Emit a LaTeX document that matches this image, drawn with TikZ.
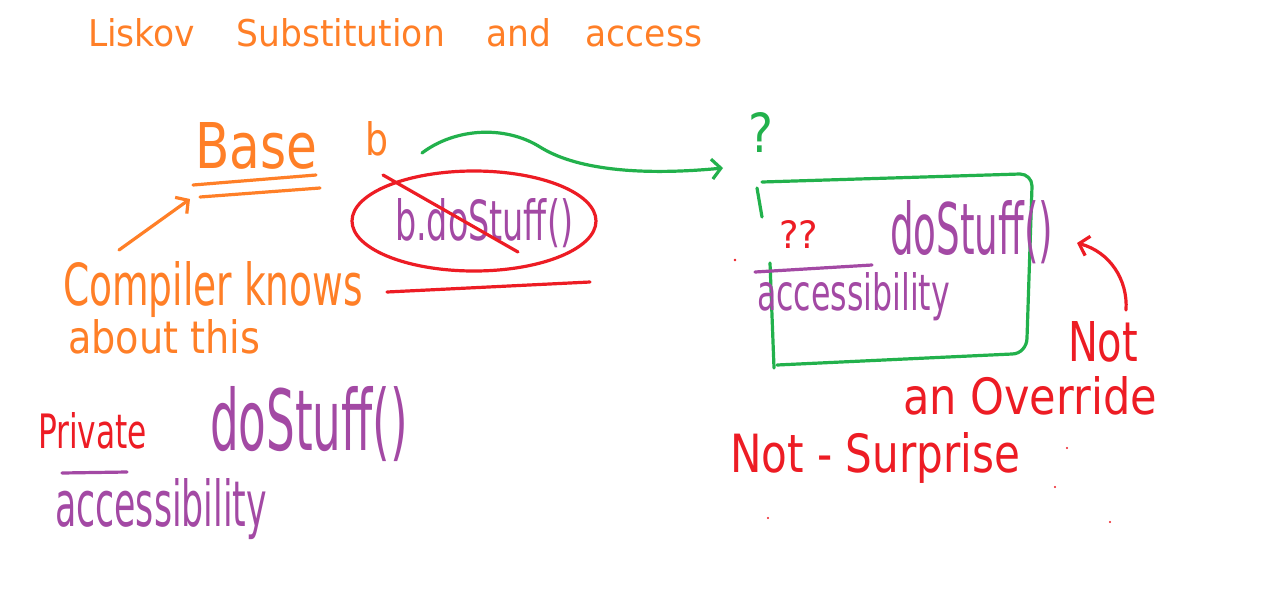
\documentclass[tikz,border=0pt]{standalone}
\usepackage{fontspec}
\setmainfont{DejaVu Sans}
\usetikzlibrary{arrows.meta}
\definecolor{porange}{RGB}{255,127,39}
\definecolor{pred}{RGB}{237,28,36}
\definecolor{pgreen}{RGB}{34,177,76}
\definecolor{ppurple}{RGB}{163,73,164}
\newcommand\hwfit[3]{\resizebox{#1pt}{#2pt}{#3}}
\begin{document}
\begin{tikzpicture}[x=1pt,y=-1pt,
  pen/.style={line width=3.2pt, line cap=round, line join=round},
  lbl/.style={inner sep=0pt, outer sep=0pt, anchor=base west},
  barb/.style={-{Straight Barb[length=9pt,width=20pt,line width=3.2pt]}},
  dotmark/.style={fill=pred, draw=none}]
\useasboundingbox (0,0) rectangle (1268,590);
\fill[white] (0,0) rectangle (1268,590);

% title
\node[lbl, text=porange] (title) at (88,46) {\hwfit{614}{28}{Liskov\hspace{1.2em}Substitution\hspace{1.2em}and\hspace{1em}access}};

% left part
\node[lbl, text=porange] (base) at (195,168) {\hwfit{122}{46}{Base}};
\draw[pen, porange] (193,185) -- (316,175);
\draw[pen, porange] (200,197) -- (320,188);
\coordinate (baseund) at (190,199);
\node[lbl, text=porange] (bvar) at (365,155) {\hwfit{23}{34}{b}};

\node[lbl, text=porange] (compiler) at (63,305) {\hwfit{300}{44}{Compiler knows}};
\node[lbl, text=porange] (about) at (68,353) {\hwfit{192}{34}{about this}};
\coordinate (cstart) at (119,250);
\draw[pen, porange, barb] (cstart) -- (baseund);

\node[lbl, text=ppurple] (call) at (395,240) {\hwfit{178}{42}{b.doStuff()}};
\draw[pen, pred] (474,221) ellipse [x radius=122pt, y radius=50pt];
\draw[pen, pred] (383,175) -- (518,252);
\draw[pen, pred] (387,292) -- (590,282);

\node[lbl, text=pred] (private) at (38,448) {\hwfit{109}{36}{Private}};
\node[lbl, text=ppurple] (dsleft) at (210,450) {\hwfit{198}{64}{doStuff()}};
\draw[pen, ppurple] (62,473) -- (127,472);
\node[lbl, text=ppurple] (accleft) at (55,526) {\hwfit{212}{48}{accessibility}};

% green arrow
\coordinate (gstart) at (422,153);
\coordinate (gend) at (723,168);
\draw[pen, pgreen, barb] (gstart) .. controls (455,128) and (505,125) .. (540,147)
   .. controls (580,172) and (650,175) .. (gend);
\node[lbl, text=pgreen] (qmark) at (748,152) {\hwfit{25}{40}{?}};

% right part
\draw[pen, pgreen] (762,182) -- (1020,174) to[out=0,in=90] (1032,186)
   -- (1027,338) to[out=-90,in=0] (1012,354) -- (777,365);
\draw[pen, pgreen] (770,263) -- (774,368);
\draw[pen, pgreen] (757,188) -- (762,217);

\node[lbl, text=pred] (qq) at (779,248) {\hwfit{39}{28}{??}};
\node[lbl, text=ppurple] (dsright) at (890,254) {\hwfit{163}{54}{doStuff()}};
\draw[pen, ppurple] (755,272) -- (872,265);
\node[lbl, text=ppurple] (accright) at (757,310) {\hwfit{193}{38}{accessibility}};

\node[lbl, text=pred] (notw) at (1068,361) {\hwfit{70}{40}{Not}};
\node[lbl, text=pred] (override) at (903,414) {\hwfit{254}{38}{an Override}};
\node[lbl, text=pred] (surprise) at (730,472) {\hwfit{290}{40}{Not - Surprise}};

\coordinate (rstart) at (1126,310);
\coordinate (rend) at (1077,243);
\draw[pen, pred, barb] (rstart) .. controls (1128,280) and (1110,252) .. (rend);

% stray marks
\fill[dotmark] (735,260) circle (1.4pt);
\fill[dotmark] (1067,448) circle (1.2pt);
\fill[dotmark] (1055,487) circle (1.2pt);
\fill[dotmark] (768,518) circle (1.2pt);
\fill[dotmark] (1110,522) circle (1.2pt);
\end{tikzpicture}
\end{document}
